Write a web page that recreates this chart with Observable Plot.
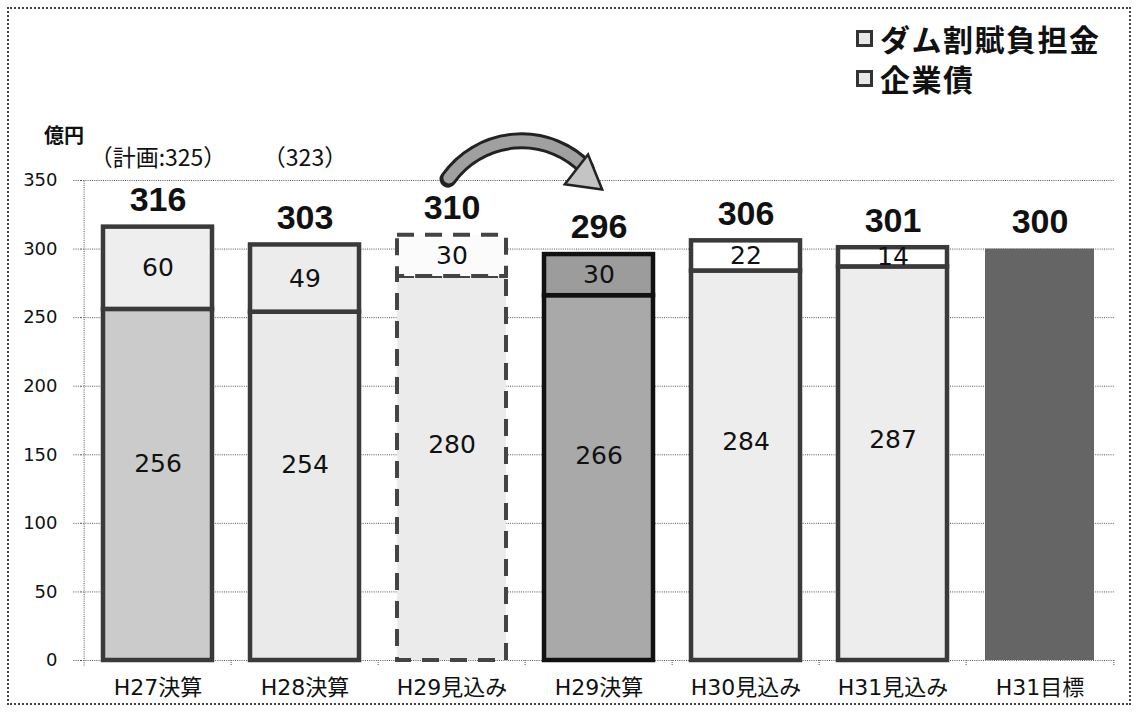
<!DOCTYPE html>
<html>
<head>
<meta charset="utf-8">
<script src="https://cdn.jsdelivr.net/npm/d3@7"></script>
<script src="https://cdn.jsdelivr.net/npm/@observablehq/plot@0.6"></script>
<style>
  html, body { margin: 0; padding: 0; background: #fff; }
  #wrap { position: relative; width: 1138px; height: 714px; overflow: hidden; font-family: "Noto Sans CJK JP", sans-serif; }
  #frame { position: absolute; left: 7px; top: 7px; width: 1120px; height: 694px; border: 2px dotted #444; pointer-events: none; }
  #legend { position: absolute; left: 856px; top: 18px; font-weight: 700; font-size: 30px; letter-spacing: 1.5px; color: #111; }
  #legend .row { display: flex; align-items: center; height: 40px; }
  #legend .box { width: 11px; height: 11px; border: 3px solid #333; background: #e8e8e8; margin-right: 7px; }
  #unit { position: absolute; left: 44px; top: 120px; font-size: 20px; font-weight: 700; color: #111; }
  svg { position: absolute; left: 0; top: 0; }
</style>
</head>
<body>
<div id="wrap">
  <div id="chart"></div>
  <div id="unit">億円</div>
  <div id="legend"></div>
  <div id="frame"></div>
</div>
<script>
// ---- data ----
const categories = ["H27決算", "H28決算", "H29見込み", "H29決算", "H30見込み", "H31見込み", "H31目標"];
const kigyosai = [256, 254, 280, 266, 284, 287, null];      // 企業債
const damKappu = [60, 49, 30, 30, 22, 14, null];            // ダム割賦負担金
const totals = [316, 303, 310, 296, 306, 301, 300];
const planNotes = ["（計画:325）", "（323）", "", "", "", "", ""];
const yTicks = [0, 50, 100, 150, 200, 250, 300, 350];
const legendItems = ["ダム割賦負担金", "企業債"];
const arrowFrom = "H29見込み", arrowTo = "H29決算";

// ---- layout / style ----
const W = 1138, H = 714;
const mL = 81, mR = 23, mT = 180, mB = 54;
const step = (W - mL - mR) / categories.length;
const barInset = 19;

const fills = {
  "H27決算": ["#cbcbcb", "#eeeeee"],
  "H28決算": ["#eaeaea", "#ececec"],
  "H29見込み": ["#ebebeb", "#fbfbfb"],
  "H29決算": ["#a9a9a9", "#9c9c9c"],
  "H30見込み": ["#ededed", "#ffffff"],
  "H31見込み": ["#ededed", "#ffffff"],
  "H31目標": ["#656565", "#656565"]
};

const segs = [];
categories.forEach((c, i) => {
  if (kigyosai[i] != null) {
    segs.push({cat: c, part: 0, y1: 0, y2: kigyosai[i], v: kigyosai[i]});
    segs.push({cat: c, part: 1, y1: kigyosai[i], y2: kigyosai[i] + damKappu[i], v: damKappu[i]});
  } else {
    segs.push({cat: c, part: 2, y1: 0, y2: totals[i], v: null});
  }
});
const fillOf = d => fills[d.cat][d.part === 1 ? 1 : 0];
const totalRows = categories.map((c, i) => ({cat: c, t: totals[i], note: planNotes[i]}));

const numFont = "'DejaVu Sans', sans-serif";

const chart = Plot.plot({
  width: W, height: H,
  marginLeft: mL, marginRight: mR, marginTop: mT, marginBottom: mB,
  style: {fontFamily: "'DejaVu Sans', 'Noto Sans CJK JP', sans-serif", background: "transparent", color: "#111"},
  x: {domain: categories, padding: 0, axis: null},
  y: {domain: [0, 350], axis: null},
  marks: [
    // gridlines
    Plot.ruleY(yTicks, {stroke: "#555", strokeWidth: 1, strokeDasharray: "1,1.2"}),
    // y axis
    Plot.axisY({ticks: yTicks, tickSize: 8, tickPadding: 16, fontSize: 18, label: null, stroke: "#555", strokeDasharray: "1,1.2", fill: "#111"}),
    // y axis line (left edge of first band)
    Plot.ruleX([categories[0]], {x: d => d, dx: -step / 2, y1: -4, y2: 350, stroke: "#555", strokeDasharray: "1,1.2"}),
    // category boundary ticks
    Plot.ruleX(categories.slice(1), {x: d => d, dx: -step / 2, y1: 0, y2: -4, stroke: "#555", strokeDasharray: "1,1"}),
    Plot.ruleX([categories[categories.length - 1]], {x: d => d, dx: step / 2, y1: 0, y2: -4, stroke: "#555", strokeDasharray: "1,1"}),
    // solid-bordered bars
    Plot.barY(segs.filter(d => d.cat !== "H29見込み" && d.part !== 2), {
      x: "cat", y1: "y1", y2: "y2", fill: fillOf, insetLeft: barInset, insetRight: barInset,
      stroke: d => d.cat === "H29決算" ? "#111" : "#3a3a3a", strokeWidth: 4.5, strokeLinejoin: "miter"
    }),
    // target bar
    Plot.barY(segs.filter(d => d.part === 2), {
      x: "cat", y1: "y1", y2: "y2", fill: fillOf, insetLeft: barInset, insetRight: barInset
    }),
    // dashed forecast bar
    Plot.barY(segs.filter(d => d.cat === "H29見込み"), {
      x: "cat", y1: "y1", y2: "y2", fill: fillOf, insetLeft: barInset, insetRight: barInset,
      stroke: "#444", strokeWidth: 4, strokeDasharray: "17,11"
    }),
    // segment labels
    Plot.text(segs.filter(d => d.part === 0), {
      x: "cat", y: d => d.y1 + (d.y2 - d.y1) * 0.56, text: d => String(d.v), fontSize: 25, fontFamily: numFont, fill: "#111"
    }),
    Plot.text(segs.filter(d => d.part === 1), {
      x: "cat", y: d => (d.y1 + d.y2) / 2, text: d => String(d.v), fontSize: 25, fontFamily: numFont, fill: "#111"
    }),
    // totals
    Plot.text(totalRows, {
      x: "cat", y: "t", dy: -27, text: d => String(d.t), fontSize: 34, fontWeight: "bold",
      fontFamily: "'Liberation Sans', Arial, sans-serif", fill: "#111"
    }),
    // plan notes
    Plot.text(totalRows.filter(d => d.note), {
      x: "cat", y: 350, dy: -22, text: "note", fontSize: 23, fontFamily: "'Noto Sans CJK JP', sans-serif", fill: "#111"
    }),
    // curved block arrow: outline body, fill body, then head
    Plot.arrow([{a: arrowFrom, b: arrowTo}], {
      x1: "a", x2: "b", y1: 351, y2: 351, dx: -4, bend: 55, stroke: "#222", strokeWidth: 17, headLength: 0, insetEnd: 14
    }),
    Plot.arrow([{a: arrowFrom, b: arrowTo}], {
      x1: "a", x2: "b", y1: 351, y2: 351, dx: -4, bend: 55, stroke: "#a0a0a0", strokeWidth: 11, headLength: 0, insetStart: 1.5, insetEnd: 12
    }),
    Plot.dot([{b: arrowTo}], {
      x: "b", y: 351, dx: -14, dy: -3, symbol: "triangle", r: 14, rotate: 128,
      fill: "#c4c4c4", stroke: "#222", strokeWidth: 2.5
    }),
    // x axis labels
    Plot.axisX({tickSize: 0, tickPadding: 19, fontSize: 22, label: null, fill: "#111",
      fontFamily: "'DejaVu Sans', 'Noto Sans CJK JP', sans-serif"})
  ]
});
document.getElementById("chart").appendChild(chart);

const leg = document.getElementById("legend");
legendItems.forEach(t => {
  const r = document.createElement("div");
  r.className = "row";
  const b = document.createElement("span");
  b.className = "box";
  const s = document.createElement("span");
  s.textContent = t;
  r.appendChild(b); r.appendChild(s);
  leg.appendChild(r);
});
</script>
</body>
</html>
